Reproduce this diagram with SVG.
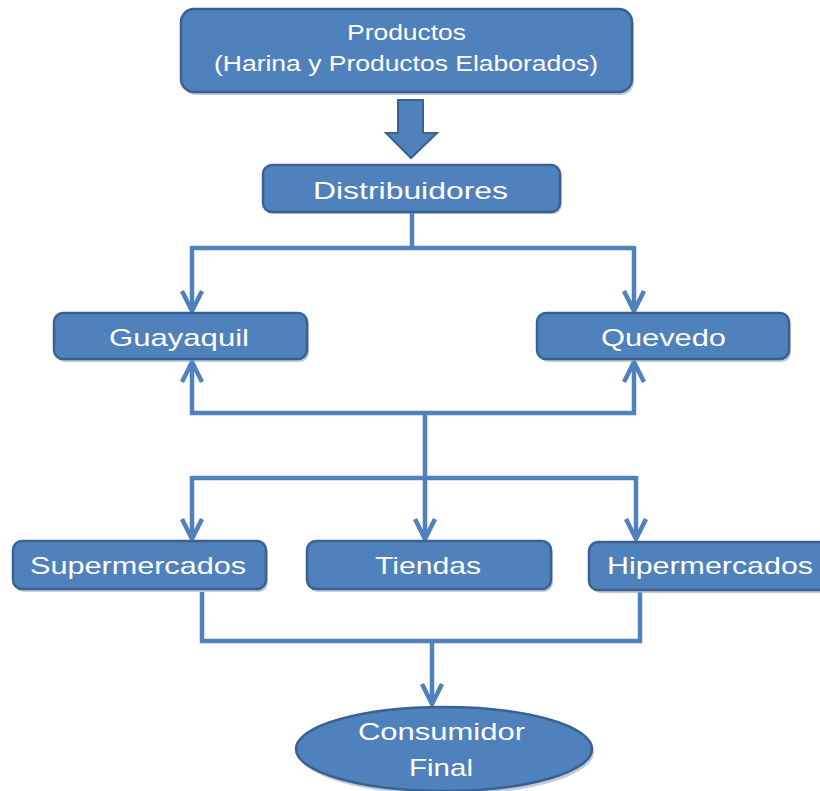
<svg xmlns="http://www.w3.org/2000/svg" width="820" height="791" viewBox="0 0 820 791">
<style>
.box{fill:#4F81BD;stroke:#3A6192;stroke-width:2.5}
.sh{fill:#9AA9BD;opacity:0.6}
.t{fill:#FFFFFF;font-family:"Liberation Sans",Arial,sans-serif;font-size:24px;text-anchor:start}
.ts{font-size:22px}
.ln{fill:none;stroke:#4F81BD;stroke-width:4.5;stroke-linejoin:miter}
.hd{fill:none;stroke:#4F81BD;stroke-width:4.5;stroke-linecap:butt;stroke-linejoin:miter}
</style>
<rect width="820" height="791" fill="#FFFFFF"/>
<g id="connectors">
  <polygon points="398,100 423,100 423,133 437,133 411,158 386,133 398,133" fill="#4F81BD" stroke="#3A6192" stroke-width="2"/>
  <path class="ln" d="M412,212 V248 M192,248 H634 M192,246 V311 M634,246 V311"/>
  <path class="hd" d="M182,291 L192,311 L202,291 M624,291 L634,311 L644,291"/>
  <path class="ln" d="M192,362 V413 H634 V362 M425,411 V539 M192,478 H636 M192,476 V539 M636,476 V539"/>
  <path class="hd" d="M182,382 L192,362 L202,382 M624,382 L634,362 L644,382"/>
  <path class="hd" d="M182,519 L192,539 L202,519 M415,519 L425,539 L435,519 M626,519 L636,539 L646,519"/>
  <path class="ln" d="M202,592 V641 H640 V592 M432,639 V704"/>
  <path class="hd" d="M422,684 L432,704 L442,684"/>
</g>
<g id="productos">
  <rect class="sh" x="183" y="12" width="451" height="83" rx="13"/>
  <rect class="box" x="181" y="9" width="451" height="83" rx="13"/>
  <text class="t ts" x="347" y="40" textLength="119" lengthAdjust="spacingAndGlyphs">Productos</text>
  <text class="t ts" x="214" y="71" textLength="384" lengthAdjust="spacingAndGlyphs">(Harina y Productos Elaborados)</text>
</g>
<g id="distribuidores">
  <rect class="sh" x="265" y="167" width="297" height="47" rx="9"/>
  <rect class="box" x="263" y="165" width="297" height="47" rx="9"/>
  <text class="t" x="313" y="199" textLength="195" lengthAdjust="spacingAndGlyphs">Distribuidores</text>
</g>
<g id="guayaquil">
  <rect class="sh" x="56" y="316" width="253" height="46" rx="9"/>
  <rect class="box" x="54" y="313" width="253" height="46" rx="9"/>
  <text class="t" x="109" y="346" textLength="140" lengthAdjust="spacingAndGlyphs">Guayaquil</text>
</g>
<g id="quevedo">
  <rect class="sh" x="539" y="316" width="252" height="46" rx="9"/>
  <rect class="box" x="537" y="313" width="252" height="46" rx="9"/>
  <text class="t" x="601" y="346" textLength="125" lengthAdjust="spacingAndGlyphs">Quevedo</text>
</g>
<g id="supermercados">
  <rect class="sh" x="15" y="544" width="253" height="48" rx="9"/>
  <rect class="box" x="13" y="541" width="253" height="48" rx="9"/>
  <text class="t" x="30" y="574" textLength="216" lengthAdjust="spacingAndGlyphs">Supermercados</text>
</g>
<g id="tiendas">
  <rect class="sh" x="309" y="544" width="244" height="48" rx="9"/>
  <rect class="box" x="307" y="541" width="244" height="48" rx="9"/>
  <text class="t" x="375" y="574" textLength="106" lengthAdjust="spacingAndGlyphs">Tiendas</text>
</g>
<g id="hipermercados">
  <rect class="sh" x="591" y="545" width="240" height="48" rx="9"/>
  <rect class="box" x="589" y="542" width="240" height="48" rx="9"/>
  <text class="t" x="607" y="574" textLength="206" lengthAdjust="spacingAndGlyphs">Hipermercados</text>
</g>
<g id="consumidor">
  <ellipse class="sh" cx="446" cy="752" rx="148" ry="43"/>
  <ellipse class="box" cx="444" cy="749" rx="148" ry="42"/>
  <text class="t" x="358" y="740" textLength="167" lengthAdjust="spacingAndGlyphs">Consumidor</text>
  <text class="t" x="409" y="776" textLength="64" lengthAdjust="spacingAndGlyphs">Final</text>
</g>
</svg>
